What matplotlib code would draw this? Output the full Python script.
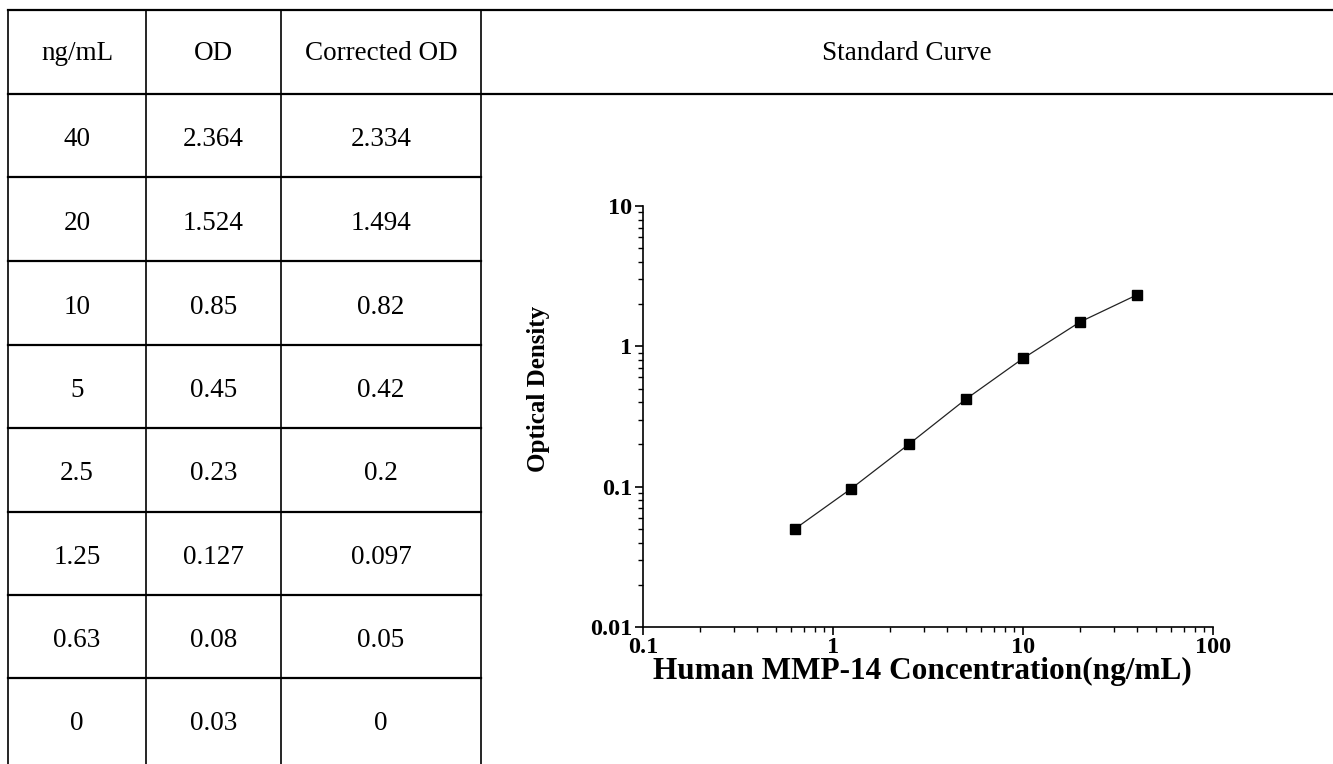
import matplotlib.pyplot as plt
from matplotlib.lines import Line2D
from matplotlib.ticker import LogLocator, FixedLocator, FixedFormatter, NullFormatter

plt.rcParams['font.family'] = ['Liberation Serif', 'DejaVu Serif']

# donnees du tableau
headers = ["ng/mL", "OD", "Corrected OD"]
conc = ["40", "20", "10", "5", "2.5", "1.25", "0.63", "0"]
od = ["2.364", "1.524", "0.85", "0.45", "0.23", "0.127", "0.08", "0.03"]
corr_od = ["2.334", "1.494", "0.82", "0.42", "0.2", "0.097", "0.05", "0"]

# points de la courbe
x_std = [0.63, 1.25, 2.5, 5, 10, 20, 40]
y_std = [0.05, 0.097, 0.2, 0.42, 0.82, 1.494, 2.334]

W, H = 1333, 764
fig = plt.figure(figsize=(W / 100, H / 100), dpi=100)

def fx(px):
    return px / W

def fy(py):
    return 1 - py / H

def hline(y, x0, x1, lw=1.6):
    fig.add_artist(Line2D([fx(x0), fx(x1)], [fy(y), fy(y)], color="black", lw=lw, transform=fig.transFigure))

def vline(x, y0, y1, lw=1.2):
    fig.add_artist(Line2D([fx(x), fx(x)], [fy(y0), fy(y1)], color="black", lw=lw, transform=fig.transFigure))

# grille du tableau
col_x = [8, 146, 281, 481]
row_y = [10, 94, 177, 261, 345, 428, 512, 595, 678]
hline(row_y[0], col_x[0], W)
hline(row_y[1], col_x[0], W)
for y in row_y[2:]:
    hline(y, col_x[0], col_x[-1])
for x in col_x:
    vline(x, row_y[0], H)

# texte du tableau
fs_tab = 19.5
col_c = [(col_x[i] + col_x[i + 1]) / 2 for i in range(3)]
for i, h in enumerate(headers):
    fig.text(fx(col_c[i]), fy(53), h, ha="center", va="center", fontsize=fs_tab)
fig.text(fx((481 + W) / 2), fy(53), "Standard Curve", ha="center", va="center", fontsize=fs_tab)

row_c = [(row_y[i] + row_y[i + 1]) / 2 + 4 for i in range(1, len(row_y) - 1)] + [724]
for r in range(len(conc)):
    for i, col in enumerate([conc, od, corr_od]):
        fig.text(fx(col_c[i]), fy(row_c[r]), col[r], ha="center", va="center", fontsize=fs_tab)

# courbe standard
ax = fig.add_axes([fx(643), fy(627), fx(1213) - fx(643), fy(206) - fy(627)])
ax.plot(x_std, y_std, color="#222222", lw=0.9, marker="s", ms=7.5, mfc="black", mec="black")
ax.set_xscale("log")
ax.set_yscale("log")
ax.set_xlim(0.1, 100)
ax.set_ylim(0.01, 10)
ax.spines["top"].set_visible(False)
ax.spines["right"].set_visible(False)
for s in ["left", "bottom"]:
    ax.spines[s].set_linewidth(1.2)

ax.xaxis.set_major_locator(FixedLocator([0.1, 1, 10, 100]))
ax.xaxis.set_major_formatter(FixedFormatter(["0.1", "1", "10", "100"]))
ax.yaxis.set_major_locator(FixedLocator([0.01, 0.1, 1, 10]))
ax.yaxis.set_major_formatter(FixedFormatter(["0.01", "0.1", "1", "10"]))
ax.xaxis.set_minor_locator(LogLocator(base=10, subs=range(2, 10), numticks=20))
ax.yaxis.set_minor_locator(LogLocator(base=10, subs=range(2, 10), numticks=20))
ax.xaxis.set_minor_formatter(NullFormatter())
ax.yaxis.set_minor_formatter(NullFormatter())
ax.tick_params(which="major", length=6, width=1.2, labelsize=17.5, pad=2)
ax.tick_params(axis="x", which="major", pad=1)
ax.tick_params(which="minor", length=3.5, width=1.0)
for lab in ax.get_xticklabels() + ax.get_yticklabels():
    lab.set_fontweight("bold")

ax.set_xlabel("Human MMP-14 Concentration(ng/mL)", fontsize=22.5, fontweight="bold")
ax.set_ylabel("Optical Density", fontsize=18, fontweight="bold")
ax.xaxis.set_label_coords(0.49, -0.072)
ax.yaxis.set_label_coords(-0.163, 0.565)

fig.savefig("out.png", dpi=100)
